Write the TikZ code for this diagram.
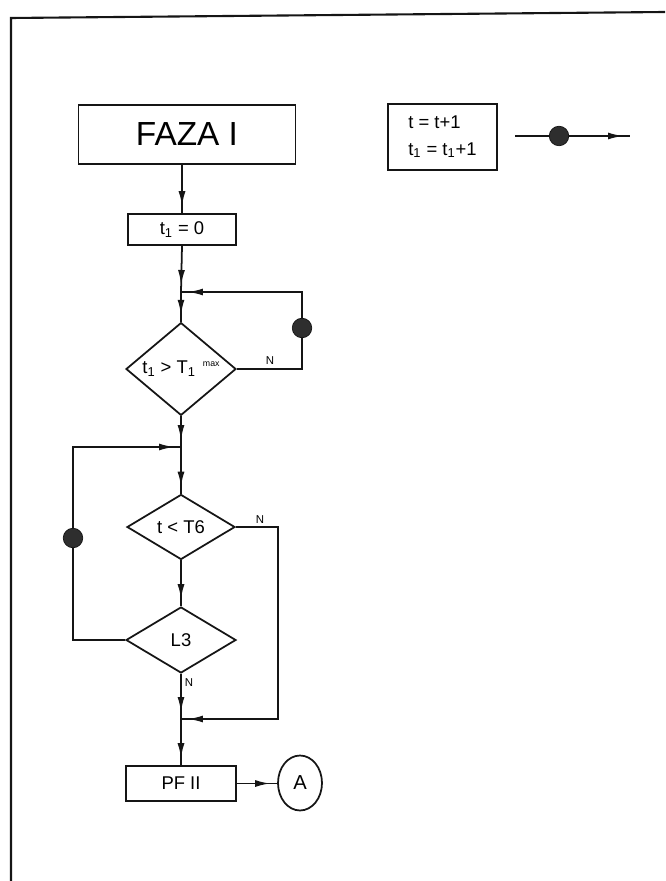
\documentclass[tikz,border=0pt]{standalone}
\usepackage{fontspec}
\setmainfont{Liberation Sans}
\usepackage{tikz}
\usetikzlibrary{shapes.geometric}
\usetikzlibrary{arrows.meta}
\usetikzlibrary{decorations.markings}
\definecolor{ink}{HTML}{151515}
\definecolor{dotgray}{HTML}{2e2e2e}
\tikzset{
    flowbox/.style={
        draw=ink,
        line width=1pt,
        inner sep=0pt,
        font=\fontsize{10.5}{15}\selectfont,
    },
    decision/.style={
        flowbox,
        diamond,
        minimum width=2.2cm,
        minimum height=1.34cm,
    },
    junctiondot/.style={
        circle,
        fill=dotgray,
        draw=ink,
        inner sep=0pt,
        minimum size=0.39cm,
    },
    plainline/.style={draw=ink, line width=1pt},
    flowline/.style={
        plainline,
        postaction={decorate},
        decoration={markings,
            mark=at position -0.14cm with {\arrow{Latex[length=3mm,width=1.4mm]}}},
    },
    nlabel/.style={font=\fontsize{6.5}{7}\selectfont, inner sep=0pt},
}

\begin{document}
\begin{tikzpicture}[x=0.02cm, y=-0.02cm]
        \useasboundingbox (0,0) rectangle (665,881);
        % page frame (left and top edge only)
        \draw[plainline, line width=1.2pt] (11,881) -- (11,18) -- (665,12);

        % Blocks of the main column
        \node[flowbox, minimum width=4.34cm, minimum height=1.18cm,
              font=\fontsize{19}{22}\selectfont] (faza) at (187,134.5) {FAZA I};
        \node[flowbox, minimum width=2.16cm, minimum height=0.62cm] (t1) at (182,229.5) {t\textsubscript{1} = 0};
        \node[decision] (d1) at (181,369)
            {t\textsubscript{1} > T\textsubscript{1}\hspace{4pt}\raisebox{4pt}{\fontsize{5}{5}\selectfont max}};
        \node[decision, minimum width=2.16cm, minimum height=1.3cm] (d2) at (181,527) {t < T6};
        \node[decision, minimum height=1.32cm] (d3) at (181,640) {L3};
        \node[flowbox, minimum width=2.2cm, minimum height=0.7cm] (pf) at (181,783.5) {PF II};
        \node[flowbox, ellipse, minimum width=0.88cm, minimum height=1.1cm,
              font=\fontsize{11.5}{12}\selectfont] (A) at (300,783) {A};

        % Legend: counter update on the dot
        \node[flowbox, minimum width=2.18cm, minimum height=1.32cm, align=left] (tbox) at (442.5,137)
            {t = t+1\\t\textsubscript{1} = t\textsubscript{1}+1};
        \coordinate (legL) at (515,136);
        \coordinate (legR) at (630,136);
        \draw[flowline] (legL) -- (legR);
        \node[junctiondot] (legdot) at (559,136) {};

        % Junctions on the main line
        \coordinate (j1) at (181,292);
        \coordinate (j2) at (181,447);
        \coordinate (j3) at (181,719);
        \coordinate (loopA) at (302,328);
        \coordinate (loopB) at (73,538);
        \coordinate (loopC) at (278,620);

        \draw[flowline] (t1.north |- faza.south) -- (t1.north);
        \draw[flowline] (t1.south) -- (j1);
        \draw[flowline] (j1) -- (d1.north);
        \draw[flowline] (d1.south) -- (j2);
        \draw[flowline] (j2) -- (d2.north);
        \draw[flowline] (d2.south) -- (d3.north);
        \draw[flowline] (d3.south) -- (j3);
        \draw[flowline] (j3) -- (pf.north);
        \draw[flowline] (pf.east) -- (pf.east -| A.west);

        % Loops back to the junctions
        \draw[flowline] (d1.east) -| (loopA) |- (j1);
        \draw[flowline] (d3.west) -| (loopB) |- (j2);
        \draw[flowline] (d2.east) -| (loopC) |- (j3);
        \node[junctiondot] (dotA) at (loopA) {};
        \node[junctiondot] (dotB) at (loopB) {};

        \node[nlabel] (nA) at (270,361) {N};
        \node[nlabel] (nB) at (260,520) {N};
        \node[nlabel] (nC) at (189,683) {N};
\end{tikzpicture}
\end{document}
